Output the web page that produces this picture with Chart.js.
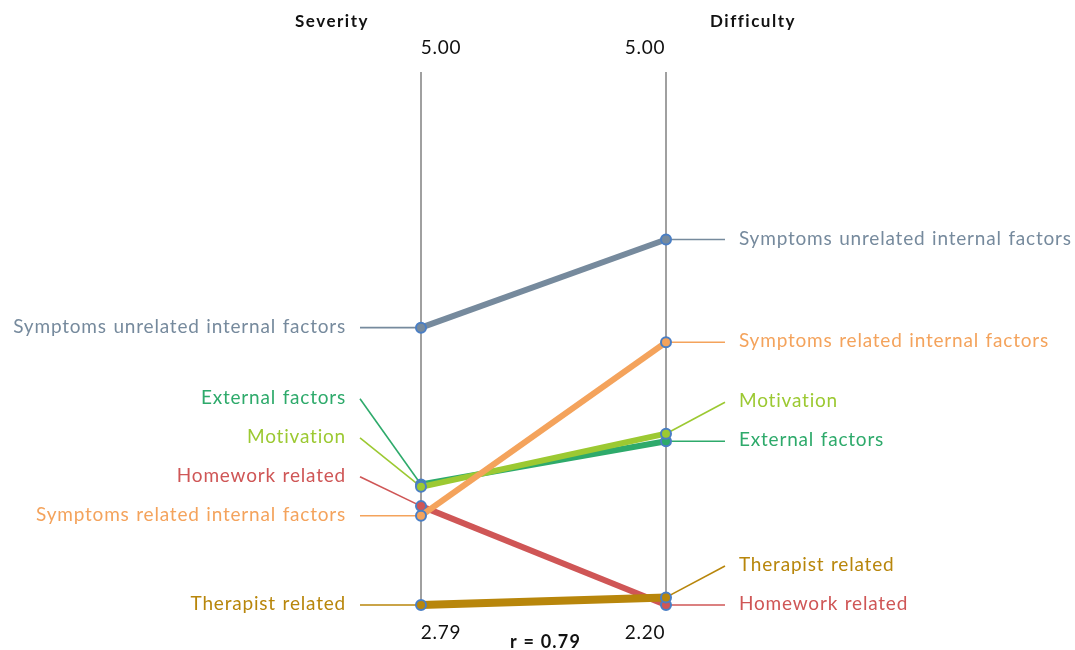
<!DOCTYPE html>
<html>
<head>
<meta charset="utf-8">
<script src="https://cdn.jsdelivr.net/npm/chart.js@4.4.0/dist/chart.umd.min.js"></script>
<style>
  html, body { margin: 0; padding: 0; background: #fff; }
  #wrap { width: 1075px; height: 650px; }
</style>
</head>
<body>
<div id="wrap"><canvas id="slopeChart" width="1075" height="650"></canvas></div>
<script>
const axisTitles = ['Severity', 'Difficulty'];
const axisMax = [5.00, 5.00];
const axisMin = [2.79, 2.20];
const categories = [
    'Symptoms unrelated internal factors',
    'Symptoms related internal factors',
    'Motivation',
    'External factors',
    'Therapist related',
    'Homework related'
];
const severity = [3.94, 3.16, 3.28, 3.29, 2.79, 3.20];
const difficulty = [4.12, 3.58, 3.10, 3.06, 2.24, 2.20];
const correlation = 0.79;

const colors = ['#768a9d', '#f4a35c', '#9cc932', '#2eaa6b', '#b8860b', '#cf5656'];
const FONT = 'Lato, "Open Sans", sans-serif';

// each axis has its own range, so put both on 0..1
const norm = (v, i) => (v - axisMin[i]) / (axisMax[i] - axisMin[i]);

const datasets = categories.map((name, k) => ({
    label: name,
    data: [
        { x: 0, y: norm(severity[k], 0) },
        { x: 1, y: norm(difficulty[k], 1) }
    ],
    borderColor: colors[k],
    borderWidth: name === 'Therapist related' ? 8 : 6,
    pointRadius: 5,
    pointBorderWidth: 2,
    pointBackgroundColor: colors[k],
    pointBorderColor: '#4a7ec4',
    clip: false,
    tension: 0
}));

// push labels apart from the bottom up
function spreadLabels(ys, gap) {
    const order = ys.map((y, i) => i).sort((a, b) => ys[b] - ys[a]);
    const out = ys.slice();
    let prev = Infinity;
    order.forEach(i => {
        out[i] = Math.min(ys[i], prev - gap);
        prev = out[i];
    });
    return out;
}

const slopeDecor = {
    id: 'slopeDecor',
    beforeDatasetsDraw(chart) {
        const ctx = chart.ctx;
        const xs = chart.scales.x, ys = chart.scales.y;
        const x0 = xs.getPixelForValue(0), x1 = xs.getPixelForValue(1);
        const top = ys.getPixelForValue(1), bottom = ys.getPixelForValue(0);

        ctx.save();
        ctx.strokeStyle = '#a0a0a0';
        ctx.lineWidth = 2;
        [x0, x1].forEach(x => {
            ctx.beginPath();
            ctx.moveTo(x, top);
            ctx.lineTo(x, bottom);
            ctx.stroke();
        });

        const leftY = severity.map(v => ys.getPixelForValue(norm(v, 0)));
        const rightY = difficulty.map(v => ys.getPixelForValue(norm(v, 1)));
        const leftL = spreadLabels(leftY, 39);
        const rightL = spreadLabels(rightY, 39);

        ctx.lineWidth = 1.6;
        categories.forEach((name, k) => {
            ctx.strokeStyle = colors[k];
            ctx.beginPath();
            ctx.moveTo(x0 - 61, leftL[k]);
            ctx.lineTo(x0, leftY[k]);
            ctx.stroke();
            ctx.beginPath();
            ctx.moveTo(x1, rightY[k]);
            ctx.lineTo(x1 + 59, rightL[k]);
            ctx.stroke();
        });

        ctx.font = '19px ' + FONT;
        ctx.letterSpacing = '0.8px';
        ctx.wordSpacing = '1px';
        ctx.textBaseline = 'middle';
        categories.forEach((name, k) => {
            ctx.fillStyle = colors[k];
            ctx.textAlign = 'right';
            ctx.fillText(name, x0 - 75, leftL[k] - 1);
            ctx.textAlign = 'left';
            ctx.fillText(name, x1 + 73, rightL[k] - 1);
        });

        ctx.fillStyle = '#111';
        ctx.textAlign = 'center';
        ctx.wordSpacing = '0px';
        ctx.fillText(axisMax[0].toFixed(2), x0 + 20, 48);
        ctx.fillText(axisMax[1].toFixed(2), x1 - 21, 48);
        ctx.fillText(axisMin[0].toFixed(2), x0 + 20, 633);
        ctx.fillText(axisMin[1].toFixed(2), x1 - 21, 633);

        ctx.font = 'bold 17px ' + FONT;
        ctx.letterSpacing = '1.5px';
        ctx.fillText(axisTitles[0], x0 - 89, 22);
        ctx.fillText(axisTitles[1], x1 + 87, 22);

        ctx.font = 'bold 18px ' + FONT;
        ctx.letterSpacing = '1.2px';
        ctx.fillText('r = ' + correlation.toFixed(2), (x0 + x1) / 2 + 2, 642);
        ctx.restore();
    }
};

new Chart(document.getElementById('slopeChart').getContext('2d'), {
    type: 'line',
    data: { datasets: datasets },
    options: {
        responsive: false,
        animation: false,
        layout: {
            padding: { left: 421, right: 409, top: 72, bottom: 45 }
        },
        scales: {
            x: { type: 'linear', min: 0, max: 1, display: false },
            y: { type: 'linear', min: 0, max: 1, display: false }
        },
        plugins: {
            legend: { display: false },
            tooltip: { enabled: false }
        }
    },
    plugins: [slopeDecor]
});
</script>
</body>
</html>
